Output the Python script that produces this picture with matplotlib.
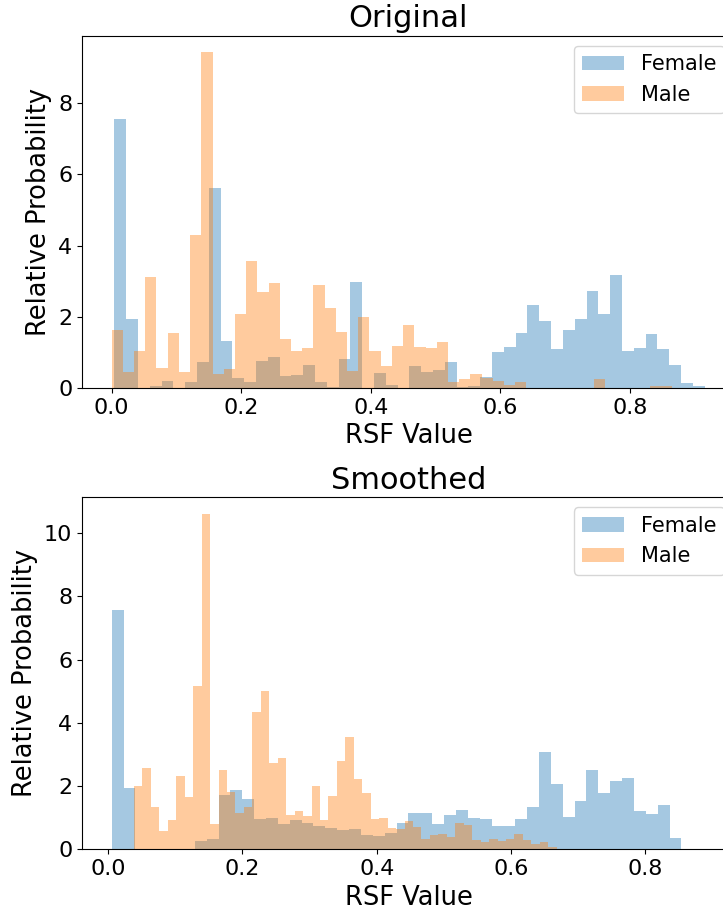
import numpy as np
import matplotlib
matplotlib.use("Agg")
import matplotlib.pyplot as plt

# ---- data ----
titles = ["Original", "Smoothed"]
series_labels = ["Female", "Male"]
x_ticks = [0.0, 0.2, 0.4, 0.6, 0.8]

# Original: bin ranges (min, max) and density heights (50 bins each)
orig_female_range = (0.0042, 0.915)
orig_female = [7.55, 1.94, 0.0, 0.06, 0.20, 0.0, 0.17, 0.73, 5.61, 1.32,
               0.28, 0.17, 0.76, 0.87, 0.34, 0.37, 0.65, 0.17, 0.03, 0.82,
               2.99, 0.0, 0.42, 0.08, 0.0, 0.62, 0.45, 0.51, 0.73, 0.03,
               0.06, 0.31, 1.01, 1.15, 1.55, 2.34, 1.89, 1.10, 1.63, 1.94,
               2.73, 2.08, 3.18, 1.04, 1.13, 1.52, 1.10, 0.65, 0.14, 0.06]
orig_male_range = (0.0, 0.865)
orig_male = [1.63, 0.45, 1.04, 3.13, 0.56, 1.55, 0.45, 4.31, 9.43, 0.39,
             0.54, 2.08, 3.58, 2.70, 2.96, 1.38, 1.04, 1.13, 2.90, 2.25,
             1.58, 0.48, 2.00, 1.04, 0.62, 1.18, 1.77, 1.15, 1.13, 1.30,
             0.17, 0.25, 0.39, 0.28, 0.20, 0.08, 0.17, 0.0, 0.0, 0.0,
             0.0, 0.0, 0.0, 0.25, 0.0, 0.0, 0.0, 0.0, 0.06, 0.06]

# Smoothed
smooth_female_range = (0.0052, 0.889)
smooth_female = [7.57, 1.94, 0.0, 0.0, 0.0, 0.0, 0.0, 0.26, 0.33, 1.72,
                 1.88, 1.59, 0.96, 0.99, 0.80, 0.93, 0.83, 0.74, 0.67, 0.61,
                 0.64, 0.45, 0.42, 0.52, 0.83, 1.15, 1.15, 0.80, 1.09, 1.24,
                 0.99, 0.96, 0.74, 0.74, 0.96, 1.34, 3.08, 2.07, 1.02, 1.53,
                 2.51, 1.78, 2.16, 2.26, 1.21, 1.12, 1.40, 0.36, 0.0, 0.0]
smooth_male_range = (0.0384, 0.668)
smooth_male = [2.00, 2.57, 1.34, 0.58, 0.93, 2.32, 1.65, 5.17, 10.61, 0.80,
               2.51, 1.81, 1.15, 1.34, 4.34, 5.01, 2.73, 2.89, 1.09, 1.21,
               1.05, 2.00, 0.93, 1.69, 2.79, 3.55, 2.22, 1.78, 0.96, 0.99,
               0.67, 0.64, 0.90, 0.70, 0.33, 0.45, 0.48, 0.39, 0.83, 0.77,
               0.29, 0.23, 0.33, 0.27, 0.33, 0.48, 0.29, 0.17, 0.23, 0.07]

panels = [
    (titles[0], [(orig_female_range, orig_female), (orig_male_range, orig_male)]),
    (titles[1], [(smooth_female_range, smooth_female), (smooth_male_range, smooth_male)]),
]

# ---- figure ----
W, H = 723, 911
fig = plt.figure(figsize=(W / 100, H / 100), dpi=100)

ax_boxes = [
    (82 / W, (H - 388) / H, 653 / W, 352.5 / H),
    (82 / W, (H - 849.3) / H, 653 / W, 352.3 / H),
]
xlims = [(-0.0457, 0.962), (-0.039, 0.9334)]
colors = ["tab:blue", "tab:orange"]

for (title, series), box, xl in zip(panels, ax_boxes, xlims):
    ax = fig.add_axes(box)
    for (rng, heights), lab, col in zip(series, series_labels, colors):
        edges = np.linspace(rng[0], rng[1], len(heights) + 1)
        ax.hist(edges[:-1], bins=edges, weights=heights, alpha=0.4,
                color=col, label=lab)
    ax.set_xlim(*xl)
    ax.set_xticks(x_ticks)
    ax.set_title(title, fontsize=22)
    ax.set_xlabel("RSF Value", fontsize=18.5)
    ax.set_ylabel("Relative Probability", fontsize=18.5)
    ax.tick_params(labelsize=16)
    ax.legend(fontsize=15, loc="upper right")

fig.savefig("out.png", dpi=100)
